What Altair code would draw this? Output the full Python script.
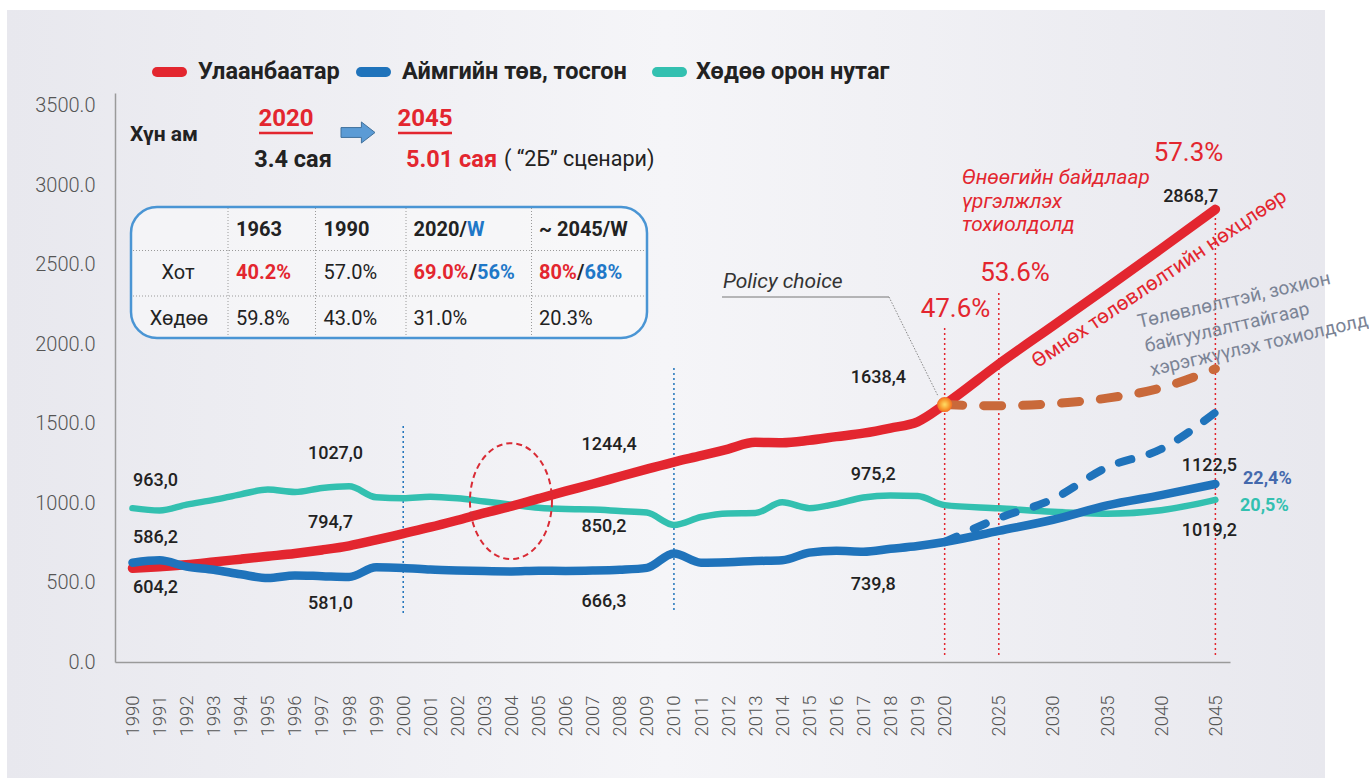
import altair as alt
import pandas as pd

# ---------------- data ----------------
YEARS = list(range(1990, 2021)) + [2025, 2030, 2035, 2040, 2045]
UB = [590, 600, 612, 629, 647, 665, 683, 705, 731, 768, 808, 848, 892, 938, 980, 1028,
      1075, 1120, 1167, 1213, 1258, 1298, 1340, 1382, 1380, 1395, 1418, 1440, 1472, 1511,
      1620, 1875, 2115, 2355, 2600, 2848]
AIMAG = [625, 640, 600, 580, 552, 528, 545, 540, 535, 596, 592, 582, 576, 572, 570, 574,
         573, 575, 580, 592, 683, 625, 628, 635, 640, 688, 700, 694, 712, 730,
         755, 825, 895, 985, 1050, 1120]
RURAL = [968, 953, 990, 1020, 1055, 1085, 1070, 1095, 1105, 1036, 1030, 1040, 1030, 1010,
         990, 970, 962, 960, 950, 940, 862, 912, 935, 937, 1005, 968, 995, 1035, 1048, 1045,
         987, 967, 945, 933, 955, 1020]
PLAN_YEARS = [2020, 2025, 2030, 2035, 2040, 2045]
UB_PLAN = [1620, 1612, 1625, 1660, 1725, 1845]
AIMAG_PLAN = [755, 905, 1025, 1225, 1340, 1570]
SERIES = ["Улаанбаатар", "Аймгийн төв, тосгон", "Хөдөө орон нутаг"]
Y_TICKS = [0, 500, 1000, 1500, 2000, 2500, 3000, 3500]

# data labels (text, year-position, value)
LABELS = [
    ("963,0", 0.02, 1138), ("586,2", 0.02, 780), ("604,2", 0.02, 465),
    ("1027,0", 6.48, 1308), ("794,7", 6.48, 874), ("581,0", 6.48, 365),
    ("1244,4", 16.59, 1365), ("850,2", 16.59, 851), ("666,3", 16.59, 379),
    ("1638,4", 26.53, 1786), ("975,2", 26.53, 1176), ("739,8", 26.53, 484),
    ("2868,7", 38.07, 2925), ("1122,5", 38.76, 1235), ("1019,2", 38.76, 824),
]

RED = "#e3262f"
BLUE = "#1f73bb"
TEAL = "#33c0b0"
BROWN = "#c9693a"
DARK = "#222222"
FONT = "Roboto"


def pos_of(year):
    return year - 1990 if year <= 2020 else 30 + (year - 2020) / 2.5


W, H = 1115, 569
LEFT, TOP = 115, 93

df = pd.DataFrame({
    "year": YEARS * 3,
    "pos": [pos_of(y) for y in YEARS] * 3,
    "val": UB + AIMAG + RURAL,
    "series": [SERIES[0]] * len(YEARS) + [SERIES[1]] * len(YEARS) + [SERIES[2]] * len(YEARS),
})
plan = pd.DataFrame({
    "pos": [pos_of(y) for y in PLAN_YEARS] * 2,
    "val": UB_PLAN + AIMAG_PLAN,
    "series": ["ub"] * len(PLAN_YEARS) + ["aimag"] * len(PLAN_YEARS),
})

xs = alt.Scale(domain=[-0.646, 40.54], nice=False, zero=False)
ys = alt.Scale(domain=[0, 3580], nice=False, zero=False)
label_expr = "datum.value <= 30 ? toString(1990 + datum.value) : toString(2020 + (datum.value - 30) * 2.5)"
x_axis = alt.Axis(values=[pos_of(y) for y in YEARS], labelExpr=label_expr,
                  labelAngle=270, labelPadding=33, labelFontSize=18.5,
                  labelOverlap=False, labelFlush=False, labelBound=False, zindex=1)
y_axis = alt.Axis(values=Y_TICKS, format=".1f", labelPadding=20, labelFontSize=20,
                  labelOverlap=False, labelFlush=False, labelBound=False, zindex=1)
x_enc = alt.X("pos:Q", scale=xs, title=None, axis=x_axis)
y_enc = alt.Y("val:Q", scale=ys, title=None, axis=y_axis)


def ptext(t, x, y, size, color=DARK, weight="normal", align="left", angle=0, style="normal"):
    return alt.Chart(pd.DataFrame({"t": [t]})).mark_text(
        align=align, baseline="middle", fontSize=size, color=color, fontWeight=weight,
        angle=angle, fontStyle=style, font=FONT
    ).encode(x=alt.value(x - LEFT), y=alt.value(y - TOP), text="t:N")


def prule(x1, y1, x2, y2, color, width, dash=None, cap="butt"):
    kw = dict(color=color, strokeWidth=width, strokeCap=cap)
    if dash:
        kw["strokeDash"] = dash
    return alt.Chart(pd.DataFrame({"a": [0]})).mark_rule(**kw).encode(
        x=alt.value(x1 - LEFT), x2=alt.value(x2 - LEFT),
        y=alt.value(y1 - TOP), y2=alt.value(y2 - TOP))


layers = []

# background panel
bg_grad = alt.LinearGradient(gradient="linear", x1=0, x2=1, y1=0, y2=0, stops=[
    alt.GradientStop(color="#e8e8ee", offset=0),
    alt.GradientStop(color="#f5f5f8", offset=0.5),
    alt.GradientStop(color="#e8e8ee", offset=1)])
layers.append(alt.Chart(pd.DataFrame({"a": [0]})).mark_rect(fill=bg_grad).encode(
    x=alt.value(7 - LEFT), x2=alt.value(1325 - LEFT), y=alt.value(10 - TOP), y2=alt.value(778 - TOP)))

# table box
layers.append(alt.Chart(pd.DataFrame({"a": [0]})).mark_rect(
    fill="#f8f8fa", fillOpacity=0.7, stroke="#4a95d4", strokeWidth=2.5, cornerRadius=26).encode(
    x=alt.value(131 - LEFT), x2=alt.value(647 - LEFT), y=alt.value(207 - TOP), y2=alt.value(338 - TOP)))
for vx in [228, 315.5, 406, 531.5]:
    layers.append(prule(vx, 208, vx, 337, "#9a9a9a", 1, dash=[1, 2]))
for hy in [250.5, 296]:
    layers.append(prule(133, hy, 646, hy, "#9a9a9a", 1, dash=[1, 2]))

# vertical dotted guides
guides = pd.DataFrame({
    "pos": [pos_of(2000), pos_of(2010)], "v1": [308, 327], "v2": [1503, 1855]})
layers.append(alt.Chart(guides).mark_rule(color=BLUE, strokeWidth=1.5, strokeDash=[2, 3]).encode(
    x=x_enc, y=alt.Y("v1:Q", scale=ys, title=None, axis=y_axis), y2="v2:Q"))
rguides = pd.DataFrame({
    "pos": [pos_of(2020), pos_of(2025), pos_of(2045)], "v1": [44, 44, 44], "v2": [2119, 2321, 2874]})
layers.append(alt.Chart(rguides).mark_rule(color=RED, strokeWidth=1.5, strokeDash=[2, 3]).encode(
    x=x_enc, y=alt.Y("v1:Q", scale=ys, title=None, axis=y_axis), y2="v2:Q"))

# series lines (teal under red under blue)
widths = {SERIES[0]: 9.5, SERIES[1]: 8.5, SERIES[2]: 6.5}
cols = {SERIES[0]: RED, SERIES[1]: BLUE, SERIES[2]: TEAL}
for s in [SERIES[2], SERIES[0], SERIES[1]]:
    layers.append(alt.Chart(df).transform_filter(alt.datum.series == s).mark_line(
        color=cols[s], strokeWidth=widths[s], strokeCap="round", strokeJoin="round",
        interpolate="monotone").encode(x=x_enc, y=y_enc, order="pos:Q"))

# planned scenarios (dashed)
layers.append(alt.Chart(plan).transform_filter(alt.datum.series == "ub").mark_line(
    color=BROWN, strokeWidth=9, strokeCap="round", strokeDash=[18, 21], interpolate="monotone"
).encode(x=x_enc, y=y_enc, order="pos:Q"))
layers.append(alt.Chart(plan).transform_filter(alt.datum.series == "aimag").mark_line(
    color=BLUE, strokeWidth=8, strokeCap="round", strokeDash=[13, 19], interpolate="monotone"
).encode(x=x_enc, y=y_enc, order="pos:Q"))

# dashed ellipse at crossing
ell = pd.DataFrame({"pos": [13.98], "val": [1012]})
layers.append(alt.Chart(ell).mark_point(
    shape="M 0.707 0 A 0.707 1 0 1 1 -0.707 0 A 0.707 1 0 1 1 0.707 0 Z",
    size=13456, filled=False, stroke="#d92b35", strokeWidth=2, strokeDash=[6, 4], opacity=1
).encode(x=x_enc, y=y_enc))

# policy choice point
dot_grad = alt.RadialGradient(gradient="radial", stops=[
    alt.GradientStop(color="#ffe066", offset=0),
    alt.GradientStop(color="#f7942a", offset=0.7),
    alt.GradientStop(color="#f26a24", offset=1)])
dot = pd.DataFrame({"pos": [pos_of(2020)], "val": [UB[30]]})
layers.append(alt.Chart(dot).mark_point(shape="circle", size=230, filled=True, fill=dot_grad,
                                        opacity=1, strokeWidth=0).encode(x=x_enc, y=y_enc))

# data labels
lab = pd.DataFrame(LABELS, columns=["t", "pos", "val"])
layers.append(alt.Chart(lab).mark_text(align="left", baseline="middle", fontSize=18,
                                       fontWeight=500, color=DARK, font=FONT).encode(
    x=x_enc, y=y_enc, text="t:N"))

# legend
for (x1, x2), tx, s in zip([(157, 182), (361, 386), (657, 682)], [198, 402, 696], SERIES):
    layers.append(prule(x1, 72, x2, 72, cols[s], 10, cap="round"))
    layers.append(ptext(s, tx, 72, 23.5, DARK, "bold"))

# header texts
layers.append(ptext("Хүн ам", 130, 135, 21, DARK, "bold"))
layers.append(ptext("2020", 286, 119, 24, RED, "bold", align="center"))
layers.append(prule(259, 133, 313, 133, RED, 2.5))
layers.append(ptext("2045", 425, 119, 24, RED, "bold", align="center"))
layers.append(prule(398, 133, 452, 133, RED, 2.5))
layers.append(alt.Chart(pd.DataFrame({"a": [0]})).mark_point(
    shape="M -1 -0.29 L 0.2 -0.29 L 0.2 -0.62 L 1 0 L 0.2 0.62 L 0.2 0.29 L -1 0.29 Z",
    size=1156, filled=True, fill="#5b9bd5", stroke="#41719c", strokeWidth=1, opacity=1
).encode(x=alt.value(358 - LEFT), y=alt.value(132.5 - TOP)))
layers.append(ptext("3.4 сая", 293, 160, 23.5, DARK, "bold", align="center"))
layers.append(ptext("5.01 сая", 406, 160, 23.5, RED, "bold"))
layers.append(ptext("( “2Б” сценари)", 504, 160, 21.5, DARK))

# table texts
r1, r2, r3 = 229.5, 273.3, 319.3
layers += [
    ptext("1963", 236, r1, 20, DARK, "bold"), ptext("1990", 323.5, r1, 20, DARK, "bold"),
    ptext("2020/", 413.5, r1, 20, DARK, "bold"), ptext("W", 467, r1, 20, "#1f78c8", "bold"),
    ptext("~ 2045/W", 539, r1, 20, DARK, "bold"),
    ptext("Хот", 178, r2, 20, DARK, align="center"),
    ptext("40.2%", 236, r2, 20, RED, "bold"), ptext("57.0%", 323.5, r2, 20, DARK),
    ptext("69.0%", 413.5, r2, 20, RED, "bold"), ptext("/", 469.5, r2, 20, DARK, "bold"),
    ptext("56%", 477, r2, 20, "#1f78c8", "bold"),
    ptext("80%", 539, r2, 20, RED, "bold"), ptext("/", 577, r2, 20, DARK, "bold"),
    ptext("68%", 584.5, r2, 20, "#1f78c8", "bold"),
    ptext("Хөдөө", 179, r3, 20, DARK, align="center"),
    ptext("59.8%", 236, r3, 20, DARK), ptext("43.0%", 323.5, r3, 20, DARK),
    ptext("31.0%", 413.5, r3, 20, DARK), ptext("20.3%", 539, r3, 20, DARK),
]

# policy choice annotation
layers.append(ptext("Policy choice", 723, 282, 21, "#333333", style="italic"))
layers.append(prule(722, 297, 889, 297, "#777777", 1))
layers.append(prule(889, 297, 938, 396, "#888888", 1, dash=[1.5, 1.5]))

# scenario shares
layers.append(ptext("47.6%", 955.5, 309, 26, RED, align="center"))
layers.append(ptext("53.6%", 1015, 273, 26, RED, align="center"))
layers.append(ptext("57.3%", 1188.5, 153, 26, RED, align="center"))

layers.append(ptext("Өнөөгийн байдлаар", 962, 178, 20.8, RED, style="italic"))
layers.append(ptext("үргэлжлэх", 962, 202, 20.8, RED, style="italic"))
layers.append(ptext("тохиолдолд", 962, 225, 20.8, RED, style="italic"))

layers.append(ptext("Өмнөх төлөвлөлтийн нөхцлөөр", 1159.5, 279, 20.5, RED, align="center", angle=326))
GRAY = "#7b8496"
layers.append(ptext("Төлөвлөлттэй, зохион", 1234, 300, 19, GRAY, align="center", angle=347))
layers.append(ptext("байгуулалттайгаар", 1227, 327.5, 19, GRAY, align="center", angle=347))
layers.append(ptext("хэрэгжүүлэх тохиолдолд", 1259, 345, 19, GRAY, align="center", angle=347))

layers.append(ptext("22,4%", 1243, 478.5, 18, "#4469ad", "bold"))
layers.append(ptext("20,5%", 1240, 505.5, 18, TEAL, "bold"))

chart = alt.layer(*layers).properties(
    width=W, height=H,
    padding={"left": LEFT, "top": TOP, "right": 1369 - LEFT - W, "bottom": 778 - TOP - H},
    autosize=alt.AutoSizeParams(type="none"),
    background="white",
).configure_view(stroke=None).configure_axis(
    grid=False, ticks=False, tickSize=0, domainColor="#9a9a9a", domainWidth=1.5,
    labelColor="#555555", labelFont=FONT, labelFontWeight=300,
)

chart.save("out.html", embed_options={"renderer": "svg", "actions": False})
